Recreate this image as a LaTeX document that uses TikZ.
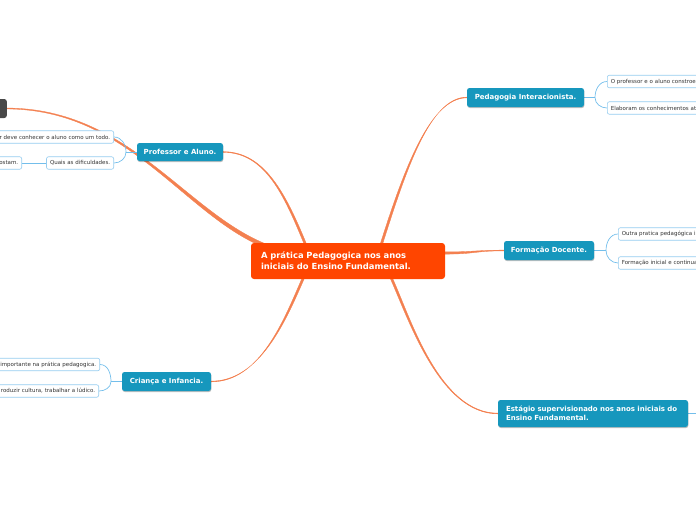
\documentclass[tikz,border=0pt]{standalone}
\usepackage{fontspec}
\setmainfont{DejaVu Sans}
\usetikzlibrary{shadows,calc}
\pgfdeclarelayer{bg}
\pgfsetlayers{bg,main}
\definecolor{rootc}{RGB}{255,69,0}
\definecolor{branchc}{RGB}{243,128,80}
\definecolor{topicc}{RGB}{22,151,189}
\definecolor{subborder}{RGB}{150,205,240}
\definecolor{subline}{RGB}{115,190,235}
\definecolor{subtext}{RGB}{51,51,51}
\definecolor{darkc}{RGB}{72,72,72}
% tapered branch: start, control 1, control 2, end, half-width vector at start, at end
\newcommand\taperbranch[6]{%
  \filldraw[branchc, line width=0.35pt]
    ($#1+#5$) .. controls ($#2+#5$) and ($#3+#6$) .. ($#4+#6$)
    -- ($#4-#6$) .. controls ($#3-#6$) and ($#2-#5$) .. ($#1-#5$) -- cycle;}
\begin{document}
\begin{tikzpicture}[x=1pt,y=1pt,
  root/.style={fill=rootc, rounded corners=3pt, text=white,
    font=\bfseries\fontsize{8.4}{11}\selectfont, minimum width=194pt,
    minimum height=36pt, text width=174pt, align=left, inner sep=0pt},
  topic/.style={fill=topicc, rounded corners=2.5pt, text=white,
    font=\bfseries\fontsize{7}{8.6}\selectfont, inner sep=0pt, minimum height=19pt,
    drop shadow={shadow xshift=0.4pt, shadow yshift=-1pt, opacity=0.25, fill=black}},
  darknode/.style={fill=darkc, rounded corners=2.5pt, minimum width=20pt,
    minimum height=19pt, inner sep=0pt, anchor=east},
  sub/.style={draw=subborder, fill=white, rounded corners=2pt, text=subtext,
    font=\fontsize{5.5}{6.5}\selectfont, inner xsep=3.5pt, inner ysep=0pt,
    minimum height=12.5pt, line width=0.6pt},
  subR/.style={sub, text width=150pt, align=left, anchor=west},
  subL/.style={sub, text width=150pt, align=right, anchor=east},
  subconn/.style={draw=subline, line width=0.7pt}]
\useasboundingbox (0,0) rectangle (696,-520);

\node[root] (cen) at (348,-261) {A prática Pedagogica nos anos\\iniciais do Ensino Fundamental.};
\node[topic, minimum width=117pt] (ped) at (525.5,-97.5) {Pedagogia Interacionista.};
\node[topic, minimum width=90pt] (form) at (549,-250.5) {Formação Docente.};
\node[topic, minimum width=190pt, minimum height=27pt, text width=174pt, align=left] (est) at (593,-413.5) {Estágio supervisionado nos anos iniciais do\\Ensino Fundamental.};
\node[topic, minimum width=89pt] (cri) at (166.5,-381.5) {Criança e Infancia.};
\node[topic, minimum width=86pt, minimum height=18pt] (prof) at (180,-152) {Professor e Aluno.};
\node[darknode] (dark) at (7,-108.5) {};

\node[subR] (p1) at (607,-81.5) {O professor e o aluno constroe};
\node[subR] (p2) at (607,-108) {Elaboram os conhecimentos at};
\node[subR] (f1) at (618,-234) {Outra pratica pedagógica i};
\node[subR] (f2) at (618,-263) {Formação inicial e continua};
\node[subL] (pr1) at (114,-137) {r deve conhecer o aluno como um todo.};
\node[sub, anchor=east] (pr2) at (114,-163) {Quais as dificuldades.};
\node[subL] (pr3) at (22,-163) {ostam.};
\node[subL] (c1) at (100,-364.5) {importante na prática pedagogica.};
\node[subL] (c2) at (99,-391) {roduzir cultura, trabalhar a lúdico.};

\coordinate (sprof) at ([xshift=54pt]cen.north west);
\coordinate (sped) at ([xshift=131pt]cen.north west);
\coordinate (sform) at ([yshift=8pt]cen.east);
\coordinate (scri) at ([xshift=52pt]cen.south west);
\coordinate (sest) at ([xshift=141pt]cen.south west);
\coordinate (sdark) at ([xshift=17pt,yshift=-4pt]cen.north west);
\coordinate (jped) at (595,-97.5);
\coordinate (jform) at (606,-250.5);
\coordinate (jprof) at (126,-152);
\coordinate (jcri) at (111,-381.5);
\coordinate (estend) at (700,-413.5);

\begin{pgfonlayer}{bg}
\taperbranch{(sprof)}{(285,-195)}{(265,-152)}{(prof.east)}{(1.2,0)}{(0,0.35)}
\taperbranch{(sped)}{(405,-170)}{(430,-97.5)}{(ped.west)}{(1.2,0)}{(0,0.35)}
\taperbranch{(sform)}{(475,-253)}{(475,-250.5)}{(form.west)}{(0,1.1)}{(0,0.35)}
\taperbranch{(scri)}{(285,-320)}{(260,-381.5)}{(cri.east)}{(1.2,0)}{(0,0.35)}
\taperbranch{(sest)}{(410,-320)}{(440,-413.5)}{(est.west)}{(1.2,0)}{(0,0.35)}
\taperbranch{(sdark)}{(185,-215)}{(130,-109)}{(dark.east)}{(0.75,1.75)}{(0,0.45)}

\draw[subconn] (ped.east) -- (jped);
\draw[subconn] (jped) to[out=90,in=180] (p1.west);
\draw[subconn] (jped) to[out=-90,in=180] (p2.west);
\draw[subconn] (form.east) -- (jform);
\draw[subconn] (jform) to[out=90,in=180] (f1.west);
\draw[subconn] (jform) to[out=-90,in=180] (f2.west);
\draw[subconn] (est.east) -- (estend);
\draw[subconn] (prof.west) -- (jprof);
\draw[subconn] (jprof) to[out=90,in=0] (pr1.east);
\draw[subconn] (jprof) to[out=-90,in=0] (pr2.east);
\draw[subconn] (pr2.west) -- (pr3.east);
\draw[subconn] (cri.west) -- (jcri);
\draw[subconn] (jcri) to[out=90,in=0] (c1.east);
\draw[subconn] (jcri) to[out=-90,in=0] (c2.east);
\end{pgfonlayer}
\end{tikzpicture}
\end{document}
